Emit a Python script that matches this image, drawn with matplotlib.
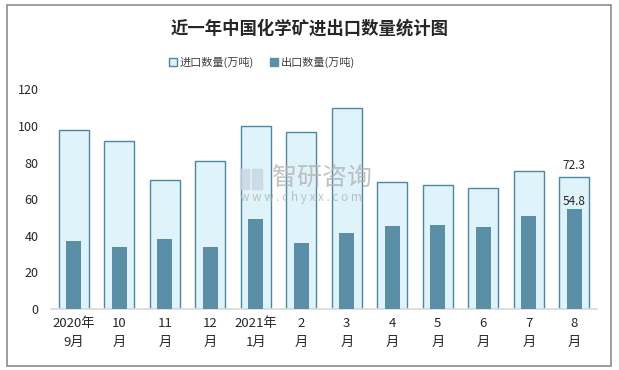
import matplotlib
matplotlib.use('Agg')
import matplotlib.pyplot as plt
from matplotlib.patches import Rectangle, Patch
import numpy as np

plt.rcParams['font.family'] = ['Noto Sans CJK SC', 'DejaVu Sans']

# Data
months = ['2020年\n9月', '10\n月', '11\n月', '12\n月', '2021年\n1月', '2\n月',
          '3\n月', '4\n月', '5\n月', '6\n月', '7\n月', '8\n月']
imports = [97.8, 91.7, 70.3, 80.7, 100.0, 96.7, 109.9, 69.2, 67.5, 66.0, 75.2, 72.3]
exports = [36.9, 34.1, 38.0, 34.1, 49.0, 36.3, 41.3, 45.1, 45.7, 44.6, 50.6, 54.8]

fig = plt.figure(figsize=(6.19, 3.70), dpi=100)
fig.patches.append(Rectangle((0.011, 0.011), 0.976, 0.975, transform=fig.transFigure,
                             fill=False, edgecolor='#8c8c8c', linewidth=1.2))

ax = fig.add_axes([0.0824, 0.1649, 0.8821, 0.5937])
x = np.arange(len(months))

ax.bar(x, imports, width=0.66, color='#dff3fa', edgecolor='#4f86a1', linewidth=1.0,
       label='进口数量(万吨)', zorder=2)
ax.bar(x, exports, width=0.33, color='#5b8fa8', linewidth=0, label='出口数量(万吨)', zorder=3)

# labels on last point
ax.text(x[-1], imports[-1] + 2.5, f'{imports[-1]}', ha='center', va='bottom',
        fontsize=8.5, color='#262626')
ax.text(x[-1], exports[-1] + 0.5, f'{exports[-1]}', ha='center', va='bottom',
        fontsize=8.5, color='#262626', zorder=4)

ax.set_xlim(-0.5, len(months) - 0.5)
ax.set_ylim(0, 120)
ax.set_yticks(range(0, 121, 20))
ax.set_xticks(x)
ax.set_xticklabels(months, fontsize=9.5, color='#262626', linespacing=1.55)
ax.tick_params(axis='y', labelsize=9, labelcolor='#262626', length=0, pad=9)
ax.tick_params(axis='x', length=0, pad=6)
for s in ['top', 'right', 'left']:
    ax.spines[s].set_visible(False)
ax.spines['bottom'].set_color('#d9d9d9')
ax.spines['bottom'].set_linewidth(1.2)

# watermark
fig.patches.append(Rectangle((240 / 619, 1 - 189 / 370), 9 / 619, 20 / 370,
                             transform=fig.transFigure, color='#c9d6e3', alpha=0.8))
fig.patches.append(Rectangle((252 / 619, 1 - 189 / 370), 10 / 619, 20 / 370,
                             transform=fig.transFigure, color='#c9d6e3', alpha=0.8))
fig.text(272 / 619, 1 - 178 / 370, '智研咨询', fontsize=18, color='#b3b3b3', alpha=0.8,
         ha='left', va='center')
fig.text(240 / 619, 1 - 198 / 370, 'w w w . c h y x x . c o m', fontsize=8.5,
         color='#b3b3b3', alpha=0.8, ha='left', va='center')

fig.text(0.5, 0.922, '近一年中国化学矿进出口数量统计图', ha='center', va='center',
         fontsize=12.5, fontweight='bold', color='#262626')

handles = [Patch(facecolor='#dff3fa', edgecolor='#4f86a1', label='进口数量(万吨)'),
           Patch(facecolor='#5b8fa8', edgecolor='#5b8fa8', label='出口数量(万吨)')]
fig.legend(handles=handles, loc='center', bbox_to_anchor=(262 / 619, 0.832), ncol=2,
           frameon=False, fontsize=8, handlelength=0.7, handleheight=0.7,
           handletextpad=0.3, columnspacing=1.4, labelcolor='#404040')

fig.savefig('out.png', dpi=100)
